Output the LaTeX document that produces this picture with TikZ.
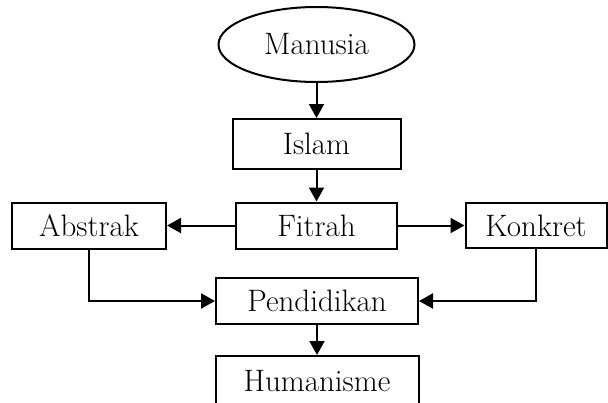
\documentclass[tikz,border=0pt]{standalone}
\usepackage{tikz}
\usetikzlibrary{shapes.geometric,arrows.meta}

\begin{document}
\begin{tikzpicture}[x=1pt, y=-1pt, line width=2pt, >={Triangle[length=14pt,width=15pt]},
		every node/.style={draw, rectangle, inner sep=0pt, font=\fontsize{31}{34}\selectfont},
		ell/.style={ellipse, minimum width=196pt, minimum height=75pt}]
			\useasboundingbox (0,0) rectangle (608,402);
			\node[ell](man) at (316.5, 44.5) {Manusia};
			\node[minimum width=168pt, minimum height=50pt](islam) at (316.5, 144) {Islam};
			\node[minimum width=161pt, minimum height=46pt](fit) at (316.5, 225.5) {Fitrah};
			\node[minimum width=154pt, minimum height=46pt](abs) at (89, 225.5) {Abstrak};
			\node[minimum width=141pt, minimum height=45pt](kon) at (536, 225.5) {Konkret};
			\node[minimum width=202pt, minimum height=46pt](pend) at (317, 301) {Pendidikan};
			\node[minimum width=203pt, minimum height=50pt](hum) at (317, 381) {Humanisme};
			\draw[->](man) -- (islam);
			\draw[->](islam) -- (fit);
			\draw[->](fit) -- (abs);
			\draw[->](fit) -- (kon);
			\draw[->](abs.south) |- (pend);
			\draw[->](kon.south) |- (pend);
			\draw[->](pend) -- (hum);
		\end{tikzpicture}
\end{document}
